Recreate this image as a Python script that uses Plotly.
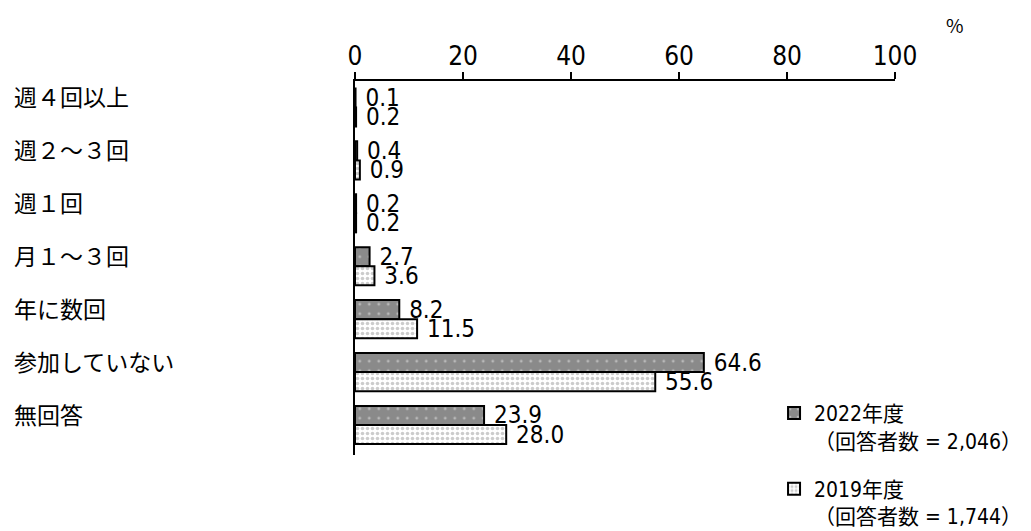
import plotly.graph_objects as go

categories = ["週４回以上", "週２～３回", "週１回", "月１～３回", "年に数回", "参加していない", "無回答"]
values_2022 = [0.1, 0.4, 0.2, 2.7, 8.2, 64.6, 23.9]
values_2019 = [0.2, 0.9, 0.2, 3.6, 11.5, 55.6, 28.0]
series_names = ["2022年度<br>（回答者数 = 2,046）", "2019年度<br>（回答者数 = 1,744）"]
x_ticks = [0, 20, 40, 60, 80, 100]

NUM_FONT = "Liberation Sans Narrow, DejaVu Sans Condensed, Noto Sans CJK JP, sans-serif"
JP_FONT = "Noto Sans CJK JP, sans-serif"

fig = go.Figure()
fig.add_trace(go.Bar(
    y=categories, x=values_2022, orientation="h", name=series_names[0],
    legendgroup="g2022",
    marker=dict(color="#8a8a8a", line=dict(color="black", width=2),
                pattern=dict(shape=".", fgcolor="#e8e8e8", bgcolor="#8a8a8a",
                             size=9.5, solidity=0.07, fillmode="overlay")),
    text=["\u00a0" + f"{v:.1f}" for v in values_2022],
    textposition="outside", cliponaxis=False, constraintext="none",
    textfont=dict(family=NUM_FONT, size=24, color="black"),
))
fig.add_trace(go.Bar(
    y=categories, x=values_2019, orientation="h", name=series_names[1],
    legendgroup="g2019",
    marker=dict(color="white", line=dict(color="black", width=2),
                pattern=dict(shape=".", fgcolor="#9a9a9a", bgcolor="white",
                             size=5, solidity=0.4, fillmode="overlay")),
    text=["\u00a0" + f"{v:.1f}" for v in values_2019],
    textposition="outside", cliponaxis=False, constraintext="none",
    textfont=dict(family=NUM_FONT, size=24, color="black"),
))

for c in categories:
    fig.add_annotation(x=-0.635, y=c, xref="paper", yref="y", text=c,
                       showarrow=False, xanchor="left", yanchor="middle",
                       yshift=11,
                       font=dict(family=JP_FONT, size=23, color="black"))

fig.add_annotation(x=1.111, y=1.15, xref="paper", yref="paper", text="%",
                   showarrow=False, xanchor="center", yanchor="middle",
                   font=dict(family=JP_FONT, size=19, color="black"))

fig.update_layout(
    width=1023, height=523,
    margin=dict(l=347, r=136, t=73, b=76, autoexpand=False),
    paper_bgcolor="white", plot_bgcolor="white",
    barmode="group", bargap=0.28, bargroupgap=0,
    showlegend=True,
    legend=dict(x=0.776, y=0.166, xanchor="left", yanchor="top",
                font=dict(family=NUM_FONT, size=21, color="black"),
                traceorder="grouped", tracegroupgap=18, itemwidth=30,
                valign="top", bgcolor="rgba(0,0,0,0)"),
    xaxis=dict(side="top", range=[0, 100], tickvals=x_ticks,
               ticktext=[str(t) for t in x_ticks],
               showline=True, linecolor="black", linewidth=2,
               ticks="outside", ticklen=7, tickwidth=2, tickcolor="black",
               ticklabelstandoff=-3,
               showgrid=False, zeroline=False,
               tickfont=dict(family=NUM_FONT, size=26, color="black")),
    yaxis=dict(autorange="reversed", showticklabels=False, showline=True,
               linecolor="black", linewidth=2, ticks="", showgrid=False,
               zeroline=False),
)

fig.write_html("out.html")
